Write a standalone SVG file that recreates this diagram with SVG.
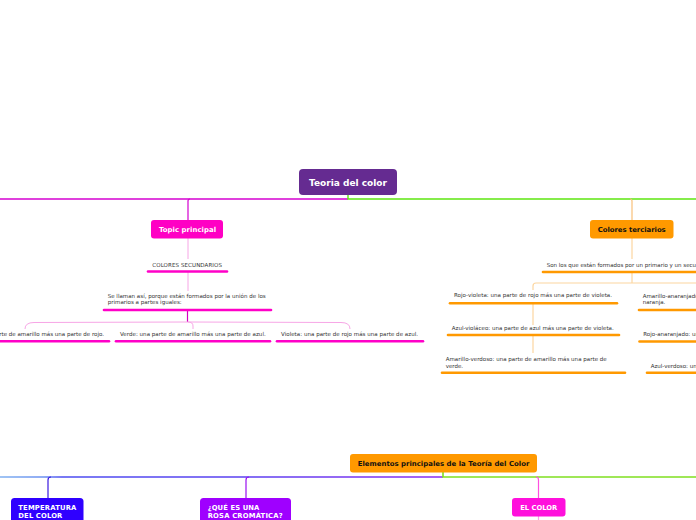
<svg xmlns="http://www.w3.org/2000/svg" width="696" height="520" viewBox="0 0 696 520">
<style>
.lbl{font-family:"DejaVu Sans","Liberation Sans",sans-serif;font-weight:bold;}
.sm{font-family:"DejaVu Sans","Liberation Sans",sans-serif;font-size:5.5px;fill:#333;}
.ulm{stroke:#ff00c8;stroke-width:2.6;stroke-linecap:round;fill:none;}
.ulo{stroke:#ff9900;stroke-width:2.6;stroke-linecap:round;fill:none;}
.lp{stroke:#f7a6e6;stroke-width:1;fill:none;}
.lo{stroke:#fcd6a0;stroke-width:1.2;fill:none;}
</style>
<defs>
<linearGradient id="gb" x1="0" y1="0" x2="443" y2="0" gradientUnits="userSpaceOnUse">
<stop offset="0" stop-color="#7fb0f0"/>
<stop offset="0.1" stop-color="#6a8ff0"/>
<stop offset="0.14" stop-color="#4b4cf0"/>
<stop offset="0.55" stop-color="#5a3ff0"/>
<stop offset="1" stop-color="#8a2cf0"/>
</linearGradient>
</defs>
<rect width="696" height="520" fill="#fff"/>
<g id="connectors">
<path d="M0,199 L348,199" stroke="#d400d0" stroke-width="1.4" fill="none"/>
<path d="M348,195 L348,199 L696,199" stroke="#5ee610" stroke-width="1.4" fill="none"/>
<path d="M188,220 L188,201 Q188,199 190,199" stroke="#d400d0" stroke-width="1.2" fill="none"/>
<path d="M632,220 L632,201 Q632,199 630,199" stroke="#f8c07a" stroke-width="1.2" fill="none"/>
<path class="lp" d="M188,238 L188,259"/>
<path class="lp" d="M188,272 L188,291"/>
<path d="M187.5,310 L187.5,322" stroke="#d400c0" stroke-width="1.2" fill="none"/>
<path class="lp" d="M25,329 Q25,322.5 34,322.5 L186,322 L341,322.5 Q350,322.5 350,329"/>
<path class="lp" d="M188,322 Q193,322 193,326 L193,329"/>
<path class="lo" d="M632,238 L632,259"/>
<path class="lo" d="M632,272 L632,283"/>
<path class="lo" d="M533,290 L533,286 Q533,283 536,283 L696,283"/>
<path class="lo" d="M533,304 L533,325"/>
<path class="lo" d="M533,336 L533,353"/>
<path d="M0,477 L443,477" stroke="url(#gb)" stroke-width="1.6" fill="none"/>
<path d="M443,472 L443,477 L696,477" stroke="#80e020" stroke-width="1.6" fill="none"/>
<path d="M48,498 L48,480 Q48,477 51,477" stroke="#3a1ae0" stroke-width="1.2" fill="none"/>
<path d="M246,498 L246,480 Q246,477 249,477" stroke="#9a10f0" stroke-width="1.2" fill="none"/>
<path d="M538.5,498 L538.5,480 Q538.5,477 536,477" stroke="#ff50e0" stroke-width="1.2" fill="none"/>
<path d="M538.5,516 L538.5,520" stroke="#ff9cec" stroke-width="1.2" fill="none"/>
</g>
<g id="teoria">
<rect x="299" y="169" width="98" height="26" rx="4" fill="#652b91"/>
<text class="lbl" x="348" y="186" font-size="9" fill="#fff" text-anchor="middle" textLength="78">Teoria del color</text>
</g>
<g id="topic">
<rect x="151" y="220" width="72" height="18.5" rx="3" fill="#ff00c4"/>
<text class="lbl" x="187.5" y="231.8" font-size="6.9" fill="#fff" text-anchor="middle" textLength="57">Topic principal</text>
</g>
<g id="secundarios">
<text class="sm" x="152.3" y="267" textLength="69.7">COLORES SECUNDARIOS</text>
<line class="ulm" x1="148" y1="271.5" x2="227" y2="271.5"/>
</g>
<g id="sellaman">
<text class="sm" x="107.7" y="297.6" textLength="158">Se llaman así, porque están formados por la unión de los</text>
<text class="sm" x="107.7" y="304.3" textLength="74">primarios a partes iguales:</text>
<line class="ulm" x1="104" y1="310" x2="271" y2="310"/>
</g>
<g id="naranja">
<text class="sm" x="104" y="336" text-anchor="end">Naranja: una parte de amarillo más una parte de rojo.</text>
<line class="ulm" x1="-5" y1="341.3" x2="109" y2="341.3"/>
</g>
<g id="verde">
<text class="sm" x="120" y="336" textLength="145.7">Verde: una parte de amarillo más una parte de azul.</text>
<line class="ulm" x1="116" y1="341.3" x2="270" y2="341.3"/>
</g>
<g id="violeta">
<text class="sm" x="281" y="336" textLength="137">Violeta: una parte de rojo más una parte de azul.</text>
<line class="ulm" x1="277" y1="341.3" x2="423" y2="341.3"/>
</g>
<g id="terciarios">
<rect x="590" y="220" width="83.5" height="18.5" rx="3" fill="#ff9900"/>
<text class="lbl" x="631.7" y="231.8" font-size="6.9" fill="#111" text-anchor="middle" textLength="68">Colores terciarios</text>
</g>
<g id="sonlos">
<text class="sm" x="546.7" y="267">Son los que están formados por un primario y un secundario.</text>
<line class="ulo" x1="543" y1="272" x2="700" y2="272"/>
</g>
<g id="rojovioleta">
<text class="sm" x="454" y="297" textLength="158">Rojo-violeta: una parte de rojo más una parte de violeta.</text>
<line class="ulo" x1="450" y1="303.3" x2="617" y2="303.3"/>
</g>
<g id="azulviolaceo">
<text class="sm" x="451.7" y="330" textLength="162">Azul-violáceo: una parte de azul más una parte de violeta.</text>
<line class="ulo" x1="448" y1="335" x2="619" y2="335"/>
</g>
<g id="amarilloverdoso">
<text class="sm" x="445.7" y="361" textLength="161">Amarillo-verdoso: una parte de amarillo más una parte de</text>
<text class="sm" x="445.7" y="368">verde.</text>
<line class="ulo" x1="442" y1="372.7" x2="625" y2="372.7"/>
</g>
<g id="amarilloanaranjado">
<text class="sm" x="642.7" y="297.6">Amarillo-anaranjado: una parte de amarillo más una parte de</text>
<text class="sm" x="642.7" y="304.3">naranja.</text>
<line class="ulo" x1="639" y1="310" x2="700" y2="310"/>
</g>
<g id="rojoanaranjado">
<text class="sm" x="643.3" y="336">Rojo-anaranjado: una parte de rojo más una parte de naranja.</text>
<line class="ulo" x1="639.5" y1="341.5" x2="700" y2="341.5"/>
</g>
<g id="azulverdoso">
<text class="sm" x="650.7" y="368">Azul-verdoso: una parte de azul más una parte de verde.</text>
<line class="ulo" x1="647" y1="372.7" x2="700" y2="372.7"/>
</g>
<g id="elementos">
<rect x="350" y="454" width="187" height="18.5" rx="3" fill="#ff9900"/>
<text class="lbl" x="443.5" y="466" font-size="6.9" fill="#111" text-anchor="middle" textLength="171.6">Elementos principales de la Teoría del Color</text>
</g>
<g id="temperatura">
<rect x="11" y="498" width="72.5" height="30" rx="3.5" fill="#2f00ff"/>
<text class="lbl" x="18.3" y="510" font-size="6.8" fill="#fff" textLength="58">TEMPERATURA</text>
<text class="lbl" x="18.3" y="518" font-size="6.8" fill="#fff" textLength="44">DEL COLOR</text>
</g>
<g id="rosa">
<rect x="200" y="498" width="91" height="30" rx="3.5" fill="#9f00ff"/>
<text class="lbl" x="207.7" y="510" font-size="6.8" fill="#fff" textLength="51.6">¿QUÉ ES UNA</text>
<text class="lbl" x="207.7" y="518" font-size="6.8" fill="#fff" textLength="75">ROSA CROMÁTICA?</text>
</g>
<g id="elcolor">
<rect x="512" y="498" width="53.5" height="18.5" rx="3" fill="#ff10dc"/>
<text class="lbl" x="538.7" y="510" font-size="6.8" fill="#fff" text-anchor="middle" textLength="37">EL COLOR</text>
</g>
</svg>
